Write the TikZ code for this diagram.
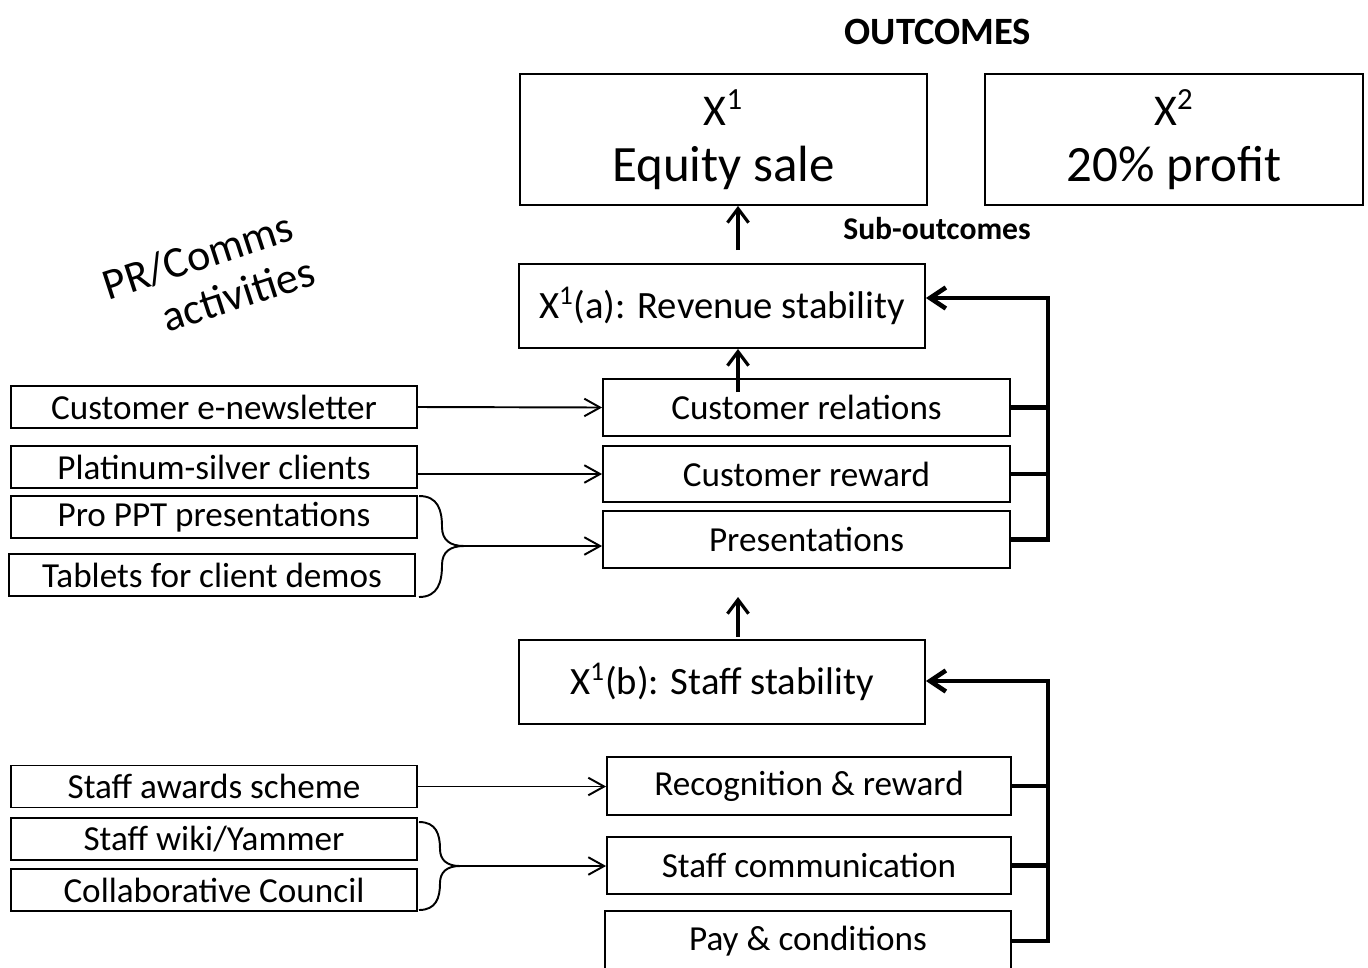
\documentclass[tikz,border=0pt]{standalone}
\usepackage{fontspec}
\setmainfont{Carlito}
\usetikzlibrary{arrows.meta}
\begin{document}
\begin{tikzpicture}[x=0.02cm,y=-0.02cm,
  box/.style={draw, line width=1.1pt, inner sep=0pt, align=center, font=\fontsize{20}{22}\selectfont},
  bigbox/.style={box, minimum width=8.12cm, minimum height=1.68cm, font=\fontsize{22}{24}\selectfont},
  midbox/.style={box, minimum width=8.14cm, minimum height=1.14cm},
  leftbox/.style={box, minimum width=8.12cm, minimum height=0.84cm},
  topbox/.style={box, minimum height=2.62cm, font=\fontsize{29}{32}\selectfont},
  head/.style={font=\bfseries\fontsize{22}{24}\selectfont},
  subhead/.style={font=\bfseries\fontsize{18}{20}\selectfont},
  slant/.style={font=\fontsize{25}{28}\selectfont, rotate=18, inner sep=0pt},
  thinarr/.style={line width=1.1pt, -{Straight Barb[length=9pt,width=10pt]}},
  uparr/.style={line width=1.8pt, -{Straight Barb[length=8pt,width=12pt]}},
  fbline/.style={line width=2.6pt},
  fbarr/.style={line width=2.6pt, -{Straight Barb[length=9pt,width=12pt]}},
  bracel/.style={line width=1.1pt}
]
\useasboundingbox (0,0) rectangle (1368,967);

% headings
\node[head] (outc) at (938,32) {OUTCOMES};
\node[subhead] (subo) at (937,229) {Sub-outcomes};

% outcomes
\node[topbox, minimum width=8.14cm] (eq) at (723.5,139.5) {{\fontsize{25}{32}\selectfont X\textsuperscript{1}}\\Equity sale};
\node[topbox, minimum width=7.56cm] (pf) at (1174,139.5) {{\fontsize{25}{32}\selectfont X\textsuperscript{2}}\\20\% profit};

% sub-outcomes
\node[bigbox] (xa) at (722,306) {X\textsuperscript{1}(a): Revenue stability};
\node[bigbox] (xb) at (722,682) {X\textsuperscript{1}(b): Staff stability};

% middle boxes
\node[midbox] (cr) at (806.5,407.5) {Customer relations};
\node[midbox, minimum height=1.12cm] (rw) at (806.5,474) {Customer reward};
\node[midbox] (pz) at (806.5,539.5) {Presentations};
\node[midbox, minimum width=8.08cm, minimum height=1.16cm] (rr) at (809,786) {Recognition \& reward};
\node[midbox, minimum width=8.08cm] (sc) at (809,865.5) {Staff communication};
\node[midbox, minimum width=8.12cm, minimum height=1.2cm] (pc) at (808,941) {Pay \& conditions};

% left boxes
\node[leftbox] (en) at (214,407) {Customer e-newsletter};
\node[leftbox] (pl) at (214,467) {Platinum-silver clients};
\node[leftbox] (pp) at (214,517) {Pro PPT presentations};
\node[leftbox] (tb) at (212,575) {Tablets for client demos};
\node[leftbox] (sa) at (214,786.5) {Staff awards scheme};
\node[leftbox] (wk) at (214,839) {Staff wiki/Yammer};
\node[leftbox] (cc) at (214,890) {Collaborative Council};

% rotated label
\node[slant] (prc1) at (198,256) {PR/Comms};
\node[slant] (prc2) at (238,294) {activities};

% up arrows
\coordinate (a1) at (738,250);
\coordinate (a2) at (738,392);
\coordinate (a3) at (738,637);
\coordinate (a3e) at (738,597);
\draw[uparr] (a1) -- (a1 |- eq.south);
\draw[uparr] (a2) -- (a2 |- xa.south);
\draw[uparr] (a3) -- (a3e);

% activity arrows
\draw[thinarr] (en.east) -- (cr.west);
\draw[thinarr] (pl.east |- rw.west) -- (rw.west);
\draw[thinarr] (sa.east) -- (sa.east -| rr.west);

% braces
\coordinate (b1s) at (419,496);
\coordinate (b1t) at (464,546);
\coordinate (b1e) at (419,597);
\draw[bracel] (b1s) .. controls (438,496) and (442,510) .. (442,527)
  .. controls (442,540) and (450,546) .. (b1t)
  .. controls (450,546) and (442,552) .. (442,565)
  .. controls (442,582) and (438,597) .. (b1e);
\draw[thinarr] (b1t) -- (b1t -| pz.west);

\coordinate (b2s) at (419,822);
\coordinate (b2t) at (460,866);
\coordinate (b2e) at (419,910);
\draw[bracel] (b2s) .. controls (436,822) and (440,834) .. (440,849)
  .. controls (440,860) and (447,866) .. (b2t)
  .. controls (447,866) and (440,872) .. (440,883)
  .. controls (440,898) and (436,910) .. (b2e);
\draw[thinarr] (b2t) -- (b2t -| sc.west);

% feedback loops
\coordinate (f1) at (1048,298);
\draw[fbline] (cr.east) -- (cr.east -| f1);
\draw[fbline] (rw.east) -- (rw.east -| f1);
\draw[fbarr] (pz.east) -- (pz.east -| f1) -- (f1) -- (f1 -| xa.east);

\coordinate (f2) at (1048,681);
\draw[fbline] (rr.east) -- (rr.east -| f2);
\draw[fbline] (sc.east) -- (sc.east -| f2);
\draw[fbarr] (pc.east) -- (pc.east -| f2) -- (f2) -- (f2 -| xb.east);
\end{tikzpicture}
\end{document}
